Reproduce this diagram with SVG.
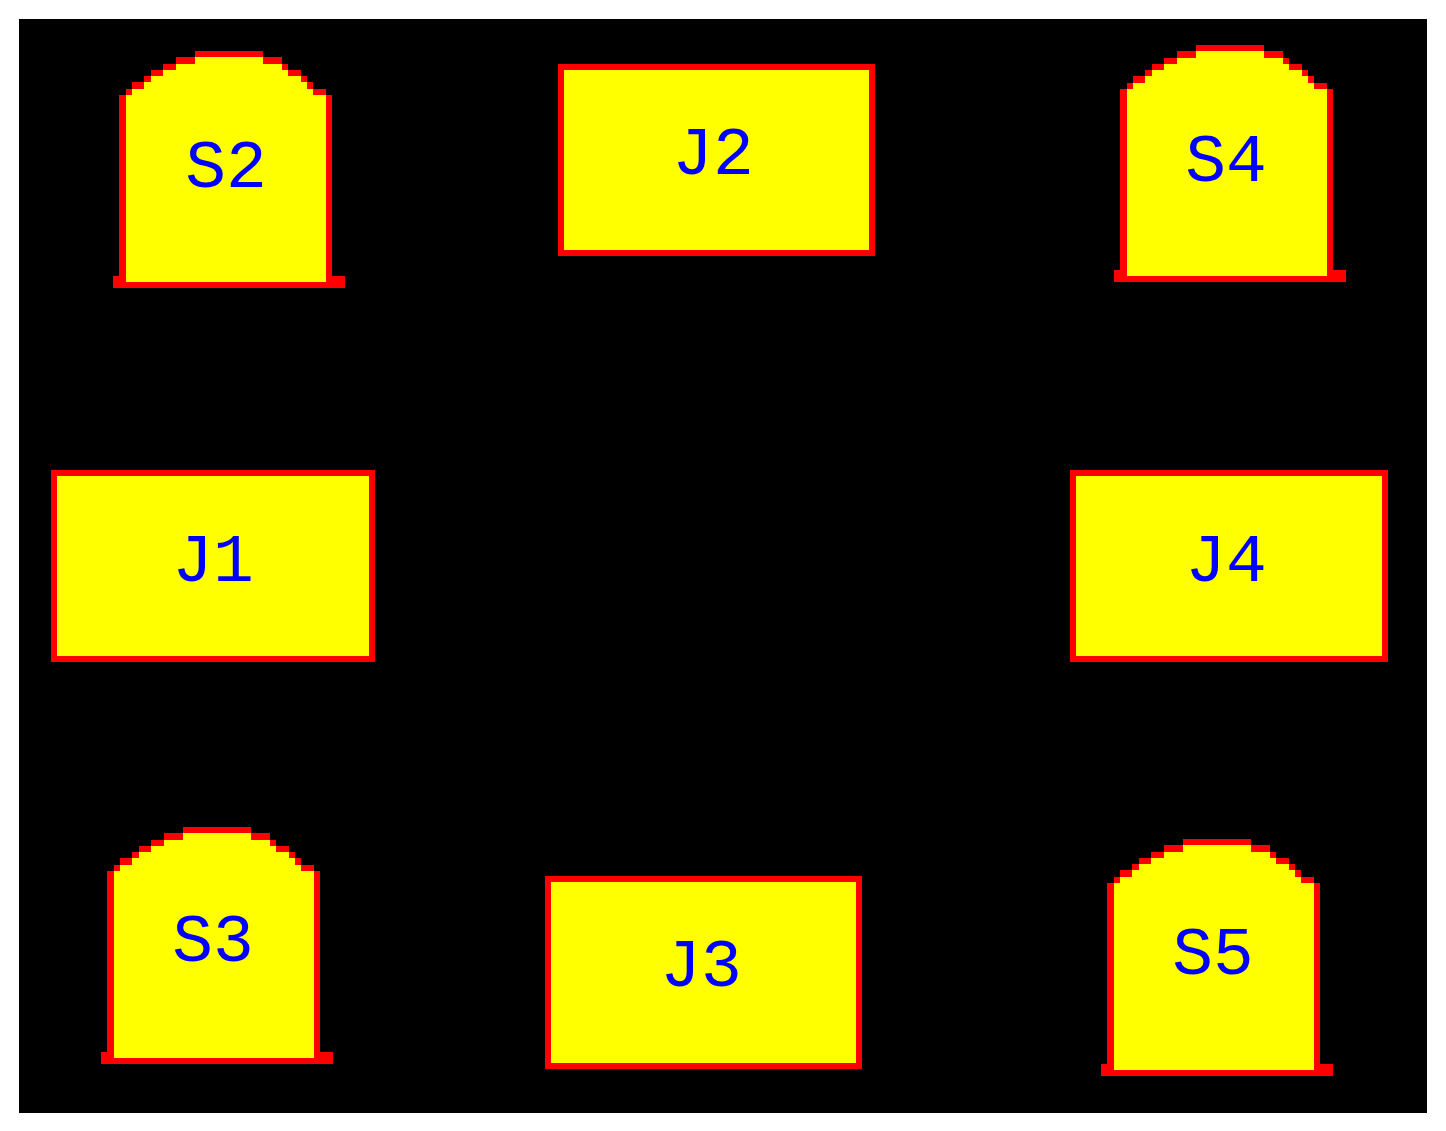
<svg xmlns="http://www.w3.org/2000/svg" width="1446" height="1131" viewBox="0 0 1446 1131">
<style>
.box{fill:#ffff00;stroke:#ff0000;stroke-width:6}
.t{font-family:"Liberation Mono",monospace;font-size:68px;fill:#0000ff;text-anchor:middle;dominant-baseline:central}
</style>
<defs>
<g id="stone">
<path fill="#ff0000" d="M0,237V225H6V44H13V38H19V31H31V25H38V19H50V13H63V6H82V0H150V6H169V13H175V19H188V25H194V31H200V38H213V44H219V225H232V237Z"/>
<path fill="#ffff00" d="M13,231V44H19V38H31V31H38V25H50V19H63V13H82V6H150V13H169V19H175V25H188V31H194V38H200V44H213V231Z"/>
</g>
</defs>
<rect width="1446" height="1131" fill="#fff"/>
<rect x="19" y="19" width="1408" height="1094" fill="#000"/>
<g id="S2"><use href="#stone" transform="translate(113,51)"/><text class="t" x="226" y="168">S2</text></g>
<g id="S4"><use href="#stone" transform="translate(1114,45)"/><text class="t" x="1226" y="162">S4</text></g>
<g id="S3"><use href="#stone" transform="translate(101,827)"/><text class="t" x="213" y="942">S3</text></g>
<g id="S5"><use href="#stone" transform="translate(1101,839)"/><text class="t" x="1213" y="955">S5</text></g>
<g id="J2"><rect class="box" x="561" y="67" width="311" height="186"/><text class="t" x="713" y="155">J2</text></g>
<g id="J1"><rect class="box" x="54" y="473" width="318" height="186"/><text class="t" x="213" y="562">J1</text></g>
<g id="J4"><rect class="box" x="1073" y="473" width="312" height="186"/><text class="t" x="1226" y="562">J4</text></g>
<g id="J3"><rect class="box" x="548" y="879" width="311" height="187"/><text class="t" x="701" y="967">J3</text></g>
<g id="connectors"/>
</svg>
